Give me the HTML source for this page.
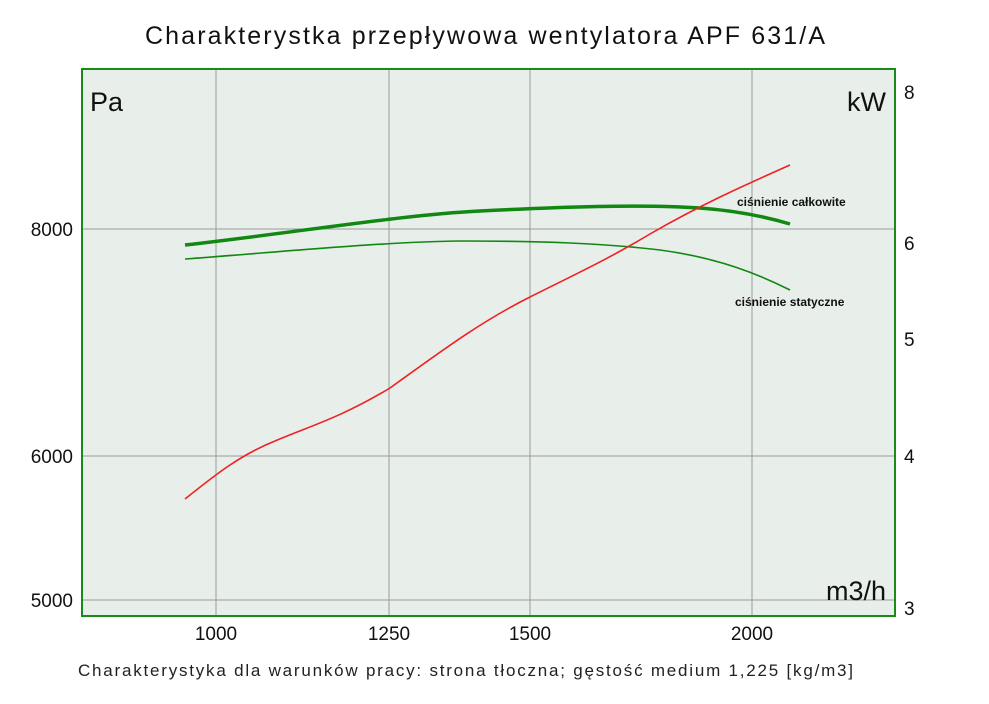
<!DOCTYPE html>
<html><head><meta charset="utf-8"><style>
html,body{margin:0;padding:0;background:#fff;}
svg text{font-family:"Liberation Sans","DejaVu Sans",sans-serif;}
</style></head><body>
<svg width="989" height="699" viewBox="0 0 989 699" xmlns="http://www.w3.org/2000/svg">
<rect width="989" height="699" fill="#fff"/>
<text x="145" y="44" font-size="25" fill="#111" textLength="680" lengthAdjust="spacing">Charakterystka przepływowa wentylatora APF 631/A</text>
<rect x="82" y="69" width="813" height="547" fill="#e8eeea" stroke="#1a8a1a" stroke-width="2"/>
<g stroke="#999" stroke-width="1">
<line x1="216" y1="70" x2="216" y2="615"/>
<line x1="389" y1="70" x2="389" y2="615"/>
<line x1="530" y1="70" x2="530" y2="615"/>
<line x1="752" y1="70" x2="752" y2="615"/>
<line x1="83" y1="229" x2="894" y2="229"/>
<line x1="83" y1="456" x2="894" y2="456"/>
<line x1="83" y1="600" x2="894" y2="600"/>
</g>
<text x="90" y="111" font-size="27" fill="#111">Pa</text>
<text x="886" y="111" font-size="27" fill="#111" text-anchor="end">kW</text>
<text x="886" y="600" font-size="27" fill="#111" text-anchor="end">m3/h</text>
<g font-size="19" fill="#111" text-anchor="end">
<text x="73" y="236">8000</text>
<text x="73" y="463">6000</text>
<text x="73" y="607">5000</text>
</g>
<g font-size="19" fill="#111">
<text x="904" y="99">8</text>
<text x="904" y="250">6</text>
<text x="904" y="346">5</text>
<text x="904" y="463">4</text>
<text x="904" y="615">3</text>
</g>
<g font-size="19" fill="#111" text-anchor="middle">
<text x="216" y="640">1000</text>
<text x="389" y="640">1250</text>
<text x="530" y="640">1500</text>
<text x="752" y="640">2000</text>
</g>
<path d="M185,245 C300,232 400,215 480,211 C560,207 640,204 700,208 C740,211 770,218 790,224" fill="none" stroke="#118811" stroke-width="3.5"/>
<path d="M185,259 C280,252 380,242 460,241 C540,241 600,243 660,250 C720,258 760,275 790,290" fill="none" stroke="#118811" stroke-width="1.6"/>
<path d="M185,499 C215,475 240,455 275,441 C310,426 340,418 390,388 C440,352 480,322 530,297 C580,272 610,258 650,234 C700,205 745,185 790,165" fill="none" stroke="#ee2222" stroke-width="1.6"/>
<g font-size="12" font-weight="bold" fill="#111">
<text x="737" y="206">ciśnienie całkowite</text>
<text x="735" y="306">ciśnienie statyczne</text>
</g>
<text x="78" y="676" font-size="17" fill="#222" textLength="775" lengthAdjust="spacing">Charakterystyka dla warunków pracy: strona tłoczna; gęstość medium 1,225 [kg/m3]</text>
</svg>
</body></html>
